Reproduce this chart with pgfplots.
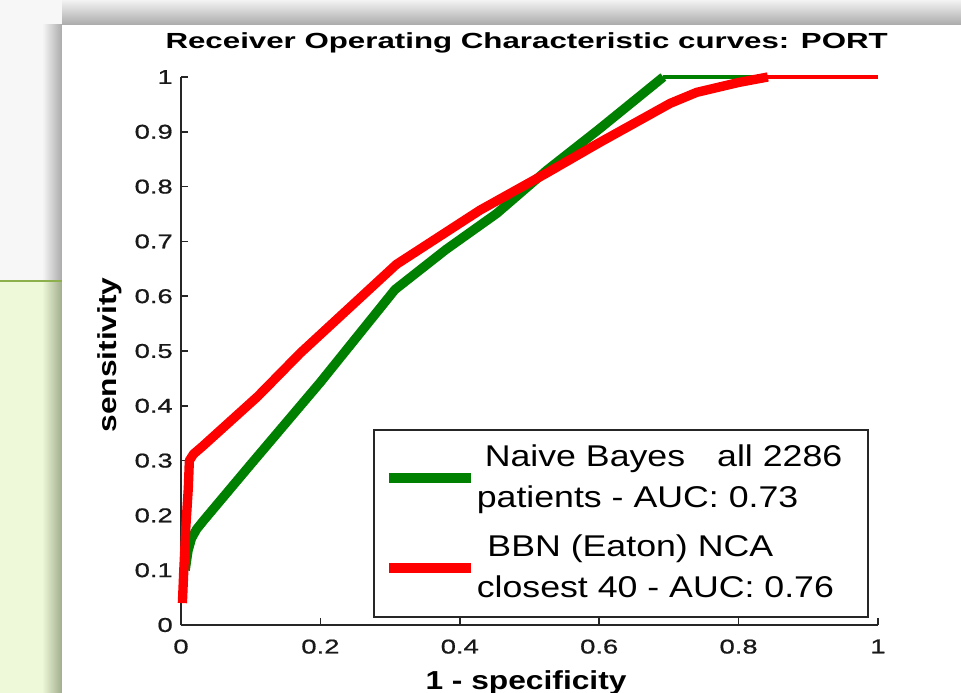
\documentclass[border=0pt]{standalone}
\usepackage{graphicx}
\usepackage{pgfplots}
\pgfplotsset{compat=1.18}
\usepackage{fontspec}
\setmainfont{Liberation Sans}
\newfontfamily\titlefont{Liberation Sans}[FakeStretch=1.43]
\newfontfamily\labfont{Liberation Sans}[FakeStretch=1.22]
\newfontfamily\legfont{Liberation Sans}[FakeStretch=1.19]
\newfontfamily\tickfont{Liberation Sans}[FakeStretch=1.37, FakeBold=0.8]
\newcommand{\tk}[1]{\mbox{\tickfont\fontsize{15pt}{18pt}\selectfont #1}}
\definecolor{mgreen}{RGB}{0,128,0}
\definecolor{mred}{RGB}{255,0,0}
\definecolor{bglight}{RGB}{243,243,243}
\definecolor{lgreen}{RGB}{238,249,218}
\definecolor{gline}{RGB}{141,176,76}
\definecolor{gshadow}{RGB}{160,172,140}
\definecolor{shadowgray}{RGB}{170,170,170}
\begin{document}
\begin{tikzpicture}
\begin{scope}
\clip (0pt,0pt) rectangle (720.75pt,519.75pt);
\begin{scope}[x=0.75pt,y=0.75pt]
\fill[bglight] (0,0) rectangle (961,693);
\fill[white!97!black] (0,412) rectangle (62,693);
\fill[lgreen] (0,0) rectangle (62,412);
\shade[left color=white!97!black, right color=shadowgray] (42,413) rectangle (62,668);
\shade[left color=lgreen, right color=gshadow] (42,0) rectangle (62,411);
\fill[gline] (0,411) rectangle (62,413);
\shade[top color=bglight, bottom color=shadowgray] (62,668) rectangle (961,693);
\fill[white] (62,0) rectangle (961,668);
\end{scope}
\begin{axis}[
  at={(135.75pt,51pt)}, anchor=south west,
  scale only axis, width=522.75pt, height=411pt,
  xmin=0, xmax=1, ymin=0, ymax=1,
  clip=false,
  axis x line*=bottom, axis y line*=left,
  axis line style={line width=1.2pt, black!85},
  tick align=inside, major tick length=5.5pt,
  major tick style={line width=1.2pt, black!85},
  xtick={0,0.2,0.4,0.6,0.8,1},
  xticklabels={\tk{0},\tk{0.2},\tk{0.4},\tk{0.6},\tk{0.8},\tk{1}},
  ytick={0,0.1,0.2,0.3,0.4,0.5,0.6,0.7,0.8,0.9,1},
  yticklabels={\tk{0},\tk{0.1},\tk{0.2},\tk{0.3},\tk{0.4},\tk{0.5},\tk{0.6},\tk{0.7},\tk{0.8},\tk{0.9},\tk{1}},
  tick label style={text=black!90},
  yticklabel style={anchor=east, inner sep=0pt, xshift=-6pt},
  xticklabel style={anchor=north, inner sep=0pt, yshift=-10.7pt},
  title={Receiver Operating Characteristic curves: PORT},
  title style={font={\titlefont\bfseries\fontsize{16.4pt}{18pt}\selectfont}, at={(axis description cs:0.496,1)}, anchor=base, yshift=15.2pt, inner sep=0pt},
  xlabel={1 - specificity},
  xlabel style={font={\labfont\bfseries\fontsize{19.5pt}{22pt}\selectfont}, at={(axis description cs:0.495,-0.1168)}, anchor=base, inner sep=0pt},
  ylabel={sensitivity},
  ylabel style={font={\labfont\bfseries\fontsize{19.5pt}{22pt}\selectfont}, at={(axis description cs:-0.0922,0.4927)}, anchor=base, inner sep=0pt},
  legend cell align=left,
  legend image code/.code={\draw[#1, line width=7.5pt] (0pt,0pt) -- (61.5pt,0pt);},
  legend style={at={(axis cs:0.2755,0.3577)}, anchor=north west,
    draw=black!85, line width=1.2pt, fill=white,
    inner xsep=7.5pt, inner ysep=5.5pt,
    row sep=5.5pt, column sep=0.75pt,
    font={\legfont\fontsize{22.5pt}{31pt}\selectfont},
    nodes={inner sep=0pt, text depth=, text height=},
    cells={anchor=west}},
]
\addplot[mgreen, line width=7pt, line join=round] coordinates {
(0.006,0.10) (0.010,0.135) (0.015,0.158) (0.0225,0.175) (0.032,0.19)
(0.10,0.293) (0.20,0.443) (0.307,0.612) (0.38,0.685) (0.453,0.751)
(0.525,0.830) (0.60,0.905) (0.692,1.0)
};
\addlegendentry{\begin{tabular}{@{}l@{}}\hspace*{6pt}Naive Bayes\hspace{24pt}all 2286\hspace*{12pt}\\patients - AUC: 0.73\end{tabular}}
\addplot[mgreen, line width=2.8pt, forget plot] coordinates {(0.692,1.0) (1.0,1.0)};
\addplot[mred, line width=7pt, line join=round] coordinates {
(0.002,0.04) (0.004,0.10) (0.007,0.18) (0.0105,0.25) (0.012,0.30)
(0.018,0.312) (0.03,0.325) (0.11,0.417) (0.171,0.496) (0.24,0.577)
(0.309,0.658) (0.429,0.757) (0.525,0.825) (0.60,0.88) (0.702,0.952)
(0.74,0.972) (0.80,0.99) (0.842,1.0)
};
\addlegendentry{\begin{tabular}{@{}l@{}}\hspace*{8pt}BBN (Eaton) NCA\\closest 40 - AUC: 0.76\end{tabular}}
\addplot[mred, line width=2.8pt, forget plot] coordinates {(0.842,1.0) (1.0,1.0)};
\end{axis}
\end{scope}
\pgfresetboundingbox
\path[use as bounding box] (0pt,0pt) rectangle (720.75pt,519.75pt);
\end{tikzpicture}
\end{document}
